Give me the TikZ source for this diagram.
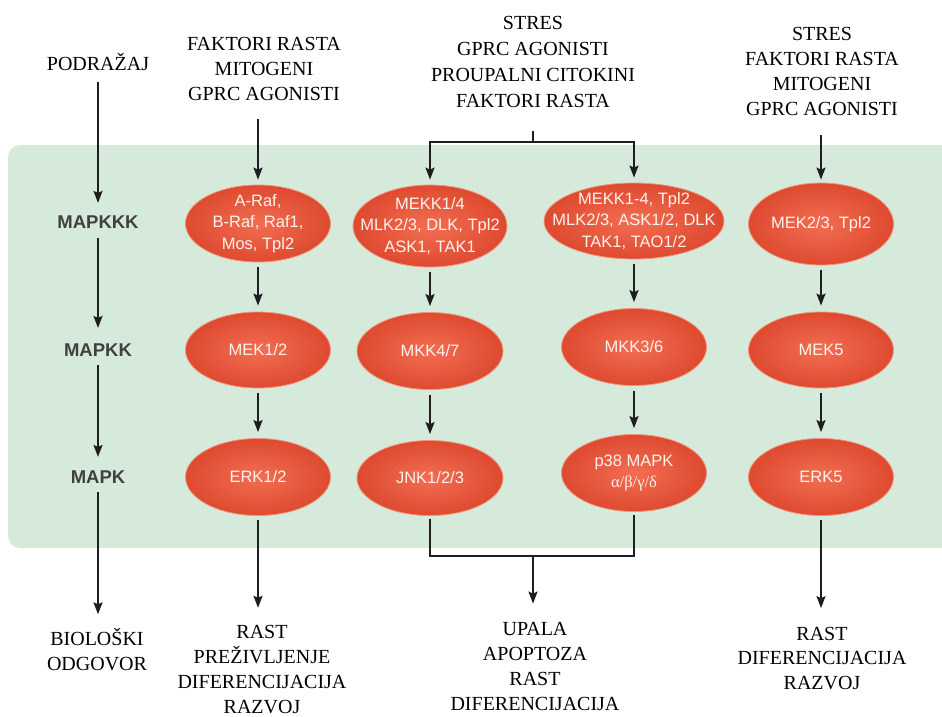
\documentclass[tikz,border=0pt]{standalone}
\usepackage{fontspec}
\setmainfont{Liberation Serif}
\setsansfont{Liberation Sans}
\usetikzlibrary{shapes.geometric,arrows.meta}
\definecolor{panel}{HTML}{D5EADB}
\definecolor{redA}{HTML}{F26E52}
\definecolor{redB}{HTML}{DE4A30}
\definecolor{rim}{HTML}{F0957A}
\definecolor{ink}{HTML}{1E1E1E}
\definecolor{etext}{HTML}{FFF3EC}
\newcommand\lns[1]{\begin{tabular}[t]{@{}c@{}}#1\end{tabular}}
\newcommand\kinase[6]{%
  \node[kinshape, minimum width=#4pt, minimum height=#5pt] (#1) at (#2,#3) {};
  \node[kintext] (#1t) at (#1.center) {#6};}
\tikzset{
  kinshape/.style={ellipse, draw=rim, line width=0.8pt, inner sep=0pt,
    inner color=redA, outer color=redB},
  kintext/.style={text=etext, inner sep=0pt, align=center,
    font=\sffamily\fontsize{16.5}{21.5}\selectfont},
  lab/.style={anchor=base, inner sep=0pt, text=black,
    font=\fontsize{20}{25}\selectfont},
  lev/.style={inner sep=0pt, text=ink!85,
    font=\sffamily\bfseries\fontsize{18.5}{20}\selectfont},
  arr/.style={draw=ink, line width=1.8pt, -{Stealth[length=12pt,width=9pt,inset=2pt]}},
  ln/.style={draw=ink, line width=1.8pt},
}
\begin{document}
\begin{tikzpicture}[x=1pt,y=-1pt]
\useasboundingbox (0,0) rectangle (942,716);
\fill[panel, rounded corners=12pt] (8,145) rectangle (960,548);

% level labels
\node[lab] (podr) at (98,70) {\lns{PODRAŽAJ}};
\node[lev] (mkkk) at (98,222) {MAPKKK};
\node[lev] (mkk) at (98,350) {MAPKK};
\node[lev] (mk) at (98,477) {MAPK};
\node[lab] (biol) at (97,645) {\lns{BIOLOŠKI\\ODGOVOR}};

% stimuli
\node[lab] (t1) at (264,50) {\lns{FAKTORI RASTA\\MITOGENI\\GPRC AGONISTI}};
\node[lab, font=\fontsize{20}{26}\selectfont] (t2) at (533,29) {\lns{STRES\\GPRC AGONISTI\\PROUPALNI CITOKINI\\FAKTORI RASTA}};
\node[lab, font=\fontsize{20}{25.3}\selectfont] (t4) at (822,40) {\lns{STRES\\FAKTORI RASTA\\MITOGENI\\GPRC AGONISTI}};

% responses
\node[lab] (b1) at (262,638) {\lns{RAST\\PREŽIVLJENJE\\DIFERENCIJACIJA\\RAZVOJ}};
\node[lab, font=\fontsize{20}{25.3}\selectfont] (b2) at (535,635) {\lns{UPALA\\APOPTOZA\\RAST\\DIFERENCIJACIJA}};
\node[lab, font=\fontsize{20}{24.5}\selectfont] (b4) at (822,640) {\lns{RAST\\DIFERENCIJACIJA\\RAZVOJ}};

% kinases
\kinase{k11}{258}{223.5}{145}{77}{A-Raf,\\B-Raf, Raf1,\\Mos, Tpl2}
\kinase{k12}{430}{226}{154}{82}{MEKK1/4\\MLK2/3, DLK, Tpl2\\ASK1, TAK1}
\kinase{k13}{634}{221}{180}{76}{MEKK1-4, Tpl2\\MLK2/3, ASK1/2, DLK\\TAK1, TAO1/2}
\kinase{k14}{821}{224}{145}{82}{MEK2/3, Tpl2}
\kinase{k21}{258}{350}{145}{76}{MEK1/2}
\kinase{k22}{430}{351}{146}{77}{MKK4/7}
\kinase{k23}{634}{347}{145}{77}{MKK3/6}
\kinase{k24}{821}{350}{145}{76}{MEK5}
\kinase{k31}{258}{477}{145}{77}{ERK1/2}
\kinase{k32}{430}{478}{146}{75}{JNK1/2/3}
\kinase{k33}{634}{473}{145}{77}{p38 MAPK\\{\rmfamily α/β/γ/δ}}
\kinase{k34}{821}{477}{145}{77}{ERK5}

% left column
\draw[arr] ([yshift=-4.5pt]podr.south) -- ([yshift=12.5pt]mkkk.north);
\draw[arr] ([yshift=-9.5pt]mkkk.south) -- ([yshift=15.5pt]mkk.north);
\draw[arr] ([yshift=-8.5pt]mkk.south) -- ([yshift=13.5pt]mk.north);
\draw[arr] ([yshift=-8.5pt]mk.south) -- ([yshift=13pt]mk.south |- biol.north);

% inputs
\draw[arr] ([yshift=-11.5pt]k11.north |- t1.south) -- ([yshift=5pt]k11.north);
\coordinate (split) at (533,142);
\draw[ln] ([yshift=-16pt]t2.south) -- (split);
\draw[arr] (split) -| ([yshift=5pt]k12.north);
\draw[arr] (split) -| ([yshift=5pt]k13.north);
\draw[arr] ([yshift=-11.5pt]k14.north |- t4.south) -- ([yshift=3pt]k14.north);

% cascades
\foreach \c in {1,2,3,4}{
  \draw[arr, shorten <=5pt, shorten >=6pt] (k1\c) -- (k2\c);
  \draw[arr, shorten <=5pt, shorten >=6pt] (k2\c) -- (k3\c);
}

% outputs
\draw[arr] ([yshift=-4pt]k31.south) -- ([yshift=12.5pt]k31.south |- b1.north);
\coordinate (merge) at (533,556);
\draw[ln] ([yshift=-3pt]k32.south) |- (merge) -| ([yshift=-3pt]k33.south);
\draw[arr] (merge) -- ([yshift=13.5pt]merge |- b2.north);
\draw[arr] ([yshift=-4pt]k34.south) -- ([yshift=14.5pt]k34.south |- b4.north);
\end{tikzpicture}
\end{document}
